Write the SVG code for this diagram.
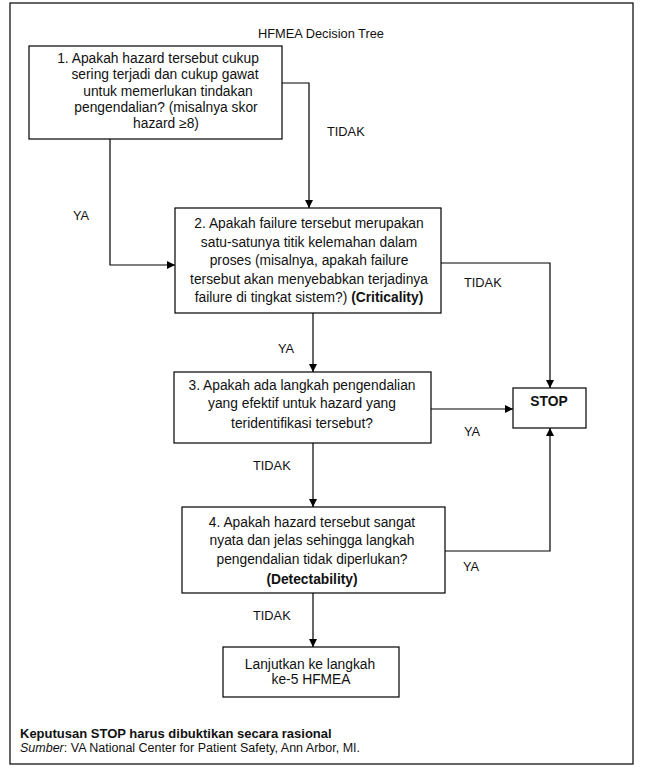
<svg xmlns="http://www.w3.org/2000/svg" width="650" height="773" viewBox="0 0 650 773">
<style>
.box{fill:#fff;stroke:#000;stroke-width:1.2}
.t{font-family:"Liberation Sans",Arial,sans-serif;font-size:13.8px;fill:#111;text-anchor:middle}
.lab{font-family:"Liberation Sans",Arial,sans-serif;font-size:12.8px;fill:#111}
.b{font-weight:bold}
.ln{fill:none;stroke:#000;stroke-width:1.2}
</style>
<defs>
<marker id="ah" viewBox="0 0 10 10" refX="10" refY="5" markerWidth="8" markerHeight="8" markerUnits="userSpaceOnUse" orient="auto">
<path d="M0,0 L10,5 L0,10 z" fill="#000"/>
</marker>
</defs>
<rect x="0" y="0" width="650" height="773" fill="#fff"/>
<rect x="10" y="3" width="623" height="761" fill="none" stroke="#000" stroke-width="1.2"/>
<text x="321" y="38" class="lab" text-anchor="middle" font-size="14.5">HFMEA Decision Tree</text>

<g id="n1">
<rect class="box" x="29" y="46" width="253" height="93"/>
<text class="t" x="158" y="63">1. Apakah hazard tersebut cukup</text>
<text class="t" x="165" y="79">sering terjadi dan cukup gawat</text>
<text class="t" x="168" y="96">untuk memerlukan tindakan</text>
<text class="t" x="166" y="112">pengendalian? (misalnya skor</text>
<text class="t" x="166" y="128">hazard ≥8)</text>
</g>

<g id="n2">
<rect class="box" x="175" y="208" width="266" height="105"/>
<text class="t" x="309" y="228">2. Apakah failure tersebut merupakan</text>
<text class="t" x="309" y="247">satu-satunya titik kelemahan dalam</text>
<text class="t" x="309" y="265">proses (misalnya, apakah failure</text>
<text class="t" x="309" y="284">tersebut akan menyebabkan terjadinya</text>
<text class="t" x="309" y="302">failure di tingkat sistem?) <tspan class="b">(Criticality)</tspan></text>
</g>

<g id="n3">
<rect class="box" x="174" y="372" width="257" height="71"/>
<text class="t" x="302" y="390">3. Apakah ada langkah pengendalian</text>
<text class="t" x="302" y="408">yang efektif untuk hazard yang</text>
<text class="t" x="302" y="428">teridentifikasi tersebut?</text>
</g>

<g id="stop">
<rect class="box" x="513" y="388" width="73" height="40"/>
<text class="t b" x="549" y="406">STOP</text>
</g>

<g id="n4">
<rect class="box" x="182" y="507" width="263" height="86"/>
<text class="t" x="312" y="527">4. Apakah hazard tersebut sangat</text>
<text class="t" x="312" y="545">nyata dan jelas sehingga langkah</text>
<text class="t" x="312" y="564">pengendalian tidak diperlukan?</text>
<text class="t b" x="312" y="584">(Detectability)</text>
</g>

<g id="n5">
<rect class="box" x="223" y="647" width="176" height="50"/>
<text class="t" x="310" y="669" font-size="16">Lanjutkan ke langkah</text>
<text class="t" x="311" y="684" font-size="14.5">ke-5 HFMEA</text>
</g>

<g id="connectors">
<polyline class="ln" points="282,83 309,83 309,208" marker-end="url(#ah)"/>
<polyline class="ln" points="110,139 110,265 175,265" marker-end="url(#ah)"/>
<polyline class="ln" points="441,263 550,263 550,388" marker-end="url(#ah)"/>
<line class="ln" x1="313" y1="313" x2="313" y2="372" marker-end="url(#ah)"/>
<line class="ln" x1="431" y1="409" x2="513" y2="409" marker-end="url(#ah)"/>
<line class="ln" x1="313" y1="443" x2="313" y2="507" marker-end="url(#ah)"/>
<polyline class="ln" points="445,551 550,551 550,428" marker-end="url(#ah)"/>
<line class="ln" x1="313" y1="593" x2="313" y2="647" marker-end="url(#ah)"/>
</g>

<g id="labels">
<text class="lab" x="327" y="136">TIDAK</text>
<text class="lab" x="73" y="220">YA</text>
<text class="lab" x="464" y="287">TIDAK</text>
<text class="lab" x="278" y="353">YA</text>
<text class="lab" x="464" y="436">YA</text>
<text class="lab" x="253" y="470">TIDAK</text>
<text class="lab" x="463" y="571">YA</text>
<text class="lab" x="253" y="620">TIDAK</text>
</g>

<text x="20" y="738" font-family="Liberation Sans,Arial,sans-serif" font-size="13" font-weight="bold" fill="#111">Keputusan STOP harus dibuktikan secara rasional</text>
<text x="20" y="752" font-family="Liberation Sans,Arial,sans-serif" font-size="12.5" fill="#111"><tspan font-style="italic">Sumber</tspan>: VA National Center for Patient Safety, Ann Arbor, MI.</text>
</svg>
